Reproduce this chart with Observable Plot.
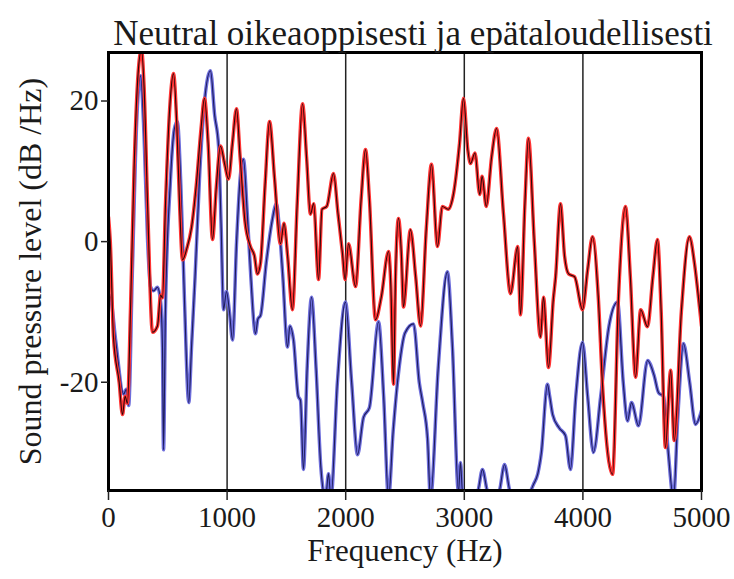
<!DOCTYPE html>
<html><head><meta charset="utf-8">
<script src="https://cdn.jsdelivr.net/npm/d3@7"></script>
<script src="https://cdn.jsdelivr.net/npm/@observablehq/plot@0.6"></script>
<style>body{margin:0;background:#fff}</style>
</head><body><div id="chart"></div>
<script>
const title = "Neutral oikeaoppisesti ja epätaloudellisesti";
const xLabel = "Frequency (Hz)";
const yLabel = "Sound pressure level (dB /Hz)";
const xTicks = [0, 1000, 2000, 3000, 4000, 5000];
const yTicks = [-20, 0, 20];
const gridLines = [1000, 2000, 3000, 4000];
const xDomain = [0, 5000];
const yDomain = [-35.4, 26.9];

const redFreq = [0,15,42,90,118,140,160,185,215,250,278,300,330,371,413,440,455,480,520,548,575,600,624,660,700,740,780,809,840,877,910,944,980,1012,1045,1079,1110,1150,1197,1230,1256,1282,1320,1358,1400,1450,1480,1510,1551,1590,1636,1670,1703,1730,1771,1800,1840,1897,1935,1973,1995,2024,2083,2130,2167,2200,2251,2300,2361,2380,2403,2420,2445,2470,2487,2546,2590,2631,2680,2723,2774,2815,2865,2910,2960,2993,3030,3052,3090,3130,3150,3185,3230,3272,3330,3390,3450,3474,3510,3541,3590,3642,3668,3710,3750,3770,3811,3845,3880,3930,3997,4040,4081,4130,4165,4250,4300,4359,4400,4444,4487,4545,4590,4629,4660,4696,4740,4770,4830,4899,4940,4983,5000];
const redDb = [3.5,0,-13.6,-20,-24.6,-22,-23,-10,10,24,27.3,22,5,-12.9,-12,-7.6,-8,5,20,23.9,17,5,-2.6,-1,2,8,16,20.4,14,0.3,8,13.6,11,8.9,14,18.9,12,3,-0.7,-2,-4.6,-3,8,17.1,9,-0.3,2.6,-2,-9.7,5,19.6,12,3.9,5.4,-5.4,4.6,5,9.7,4,-1.7,-5.4,-0.3,-6.4,6,13.1,6,-11.1,-7.9,-1.4,-6,-20.3,-5,3.3,-2,-9.3,1.7,-5,-12,2,11,-0.7,5,4.6,6.9,14,20.4,13,11.1,12.6,6.7,9.3,5,12,16.1,4,-7.4,-0.7,-10.4,5,14.7,0,-13.6,-7.9,-17.9,-8.3,-5,5.4,-2,-4.6,-5,-9.7,-4,0.7,-8,-20.3,-33.1,-8,5,-5,-19.3,-9.7,-12.1,-5,0.3,-10,-29.3,-18.3,-28.3,-10,0.7,-3,-9.3,-12];

const blueFreq = [0,17,60,128,150,170,200,240,270,300,330,354,380,413,440,455,464,480,520,555,580,610,640,677,700,730,770,810,860,895,928,950,970,995,1020,1046,1080,1110,1138,1170,1200,1239,1260,1282,1330,1380,1416,1440,1470,1509,1530,1560,1600,1619,1644,1675,1712,1750,1790,1830,1855,1875,1930,1998,2050,2100,2150,2200,2277,2320,2361,2400,2450,2500,2572,2620,2650,2690,2715,2780,2858,2900,2951,2968,2985,3050,3110,3153,3200,3290,3339,3390,3450,3550,3584,3620,3650,3701,3720,3745,3800,3853,3895,3940,3997,4040,4089,4150,4220,4292,4340,4376,4410,4469,4545,4600,4638,4680,4720,4764,4800,4848,4900,4949,4990,5000];
const blueDb = [-7.5,-7.9,-14,-21.7,-21,-23.3,-5,18,23.6,15,0,-6.4,-7,-6.5,-8.6,-15,-29.6,-10,8,16,17.1,8,-8,-22.9,-15,-5,10,20,24.3,18,13.6,2,-9.7,-7.1,-10,-14,0,9,11.7,4,-5,-13.1,-11,-10.5,-3,3,5.4,2,-5,-15,-12,-14,-22,-22.6,-32.4,-18,-7.9,-18,-32,-36.5,-33,-36.5,-20,-8.6,-20,-30.3,-25,-23.6,-11.4,-22,-36.5,-27,-18,-13,-11.7,-20,-23,-28,-36.5,-18,-4.3,-15,-35.6,-31.4,-35.6,-35.6,-35.6,-32.4,-35.6,-35.6,-31.7,-35.6,-35.6,-35.6,-34.5,-33,-30,-20.3,-22,-24.6,-26.5,-27.6,-32.4,-22,-14.3,-22,-30,-22,-12,-8.6,-20,-25.5,-22.9,-26.2,-16.9,-19,-21.5,-22,-30,-36.5,-25,-14.5,-20,-26,-24.6,-24];

const red = redFreq.map((f, i) => ({f, db: redDb[i]}));
const blue = blueFreq.map((f, i) => ({f, db: blueDb[i]}));

const serif = "'Liberation Serif', 'DejaVu Serif', serif";
const fmt = d => String(d);
const chart = Plot.plot({
  width: 734, height: 579,
  marginLeft: 108, marginRight: 33, marginTop: 52, marginBottom: 89,
  style: {fontFamily: serif, fontSize: "29px", color: "#1a1a1a", background: "#fff"},
  x: {domain: xDomain},
  y: {domain: yDomain},
  marks: [
    Plot.ruleX(gridLines, {stroke: "#222", strokeWidth: 1.5}),
    Plot.line(blue, {x: "f", y: "db", stroke: "#6e6edb", strokeWidth: 3.5, curve: "monotone-x", clip: true}),
    Plot.line(blue, {x: "f", y: "db", stroke: "#1c1c5c", strokeWidth: 1.1, curve: "monotone-x", clip: true}),
    Plot.line(red, {x: "f", y: "db", stroke: "#ff3434", strokeWidth: 3.5, curve: "monotone-x", clip: true}),
    Plot.line(red, {x: "f", y: "db", stroke: "#2a0808", strokeWidth: 1.1, curve: "monotone-x", clip: true}),
    Plot.frame({stroke: "#000", strokeWidth: 3}),
    Plot.axisX(xTicks, {tickSize: 10, tickPadding: 6, label: null, tickFormat: fmt, stroke: "#222", strokeWidth: 1.5}),
    Plot.axisY(yTicks, {tickSize: 7, tickPadding: 3, label: null, tickFormat: fmt, stroke: "#222", strokeWidth: 1.5}),
    Plot.text([title], {frameAnchor: "top", dy: -32, dx: 8, fontSize: 35}),
    Plot.text([xLabel], {frameAnchor: "bottom", dy: 70, fontSize: 31}),
    Plot.text([yLabel], {frameAnchor: "left", dx: -78, rotate: -90, textAnchor: "middle", fontSize: 32})
  ]
});
document.getElementById("chart").appendChild(chart);
</script>
</body></html>
